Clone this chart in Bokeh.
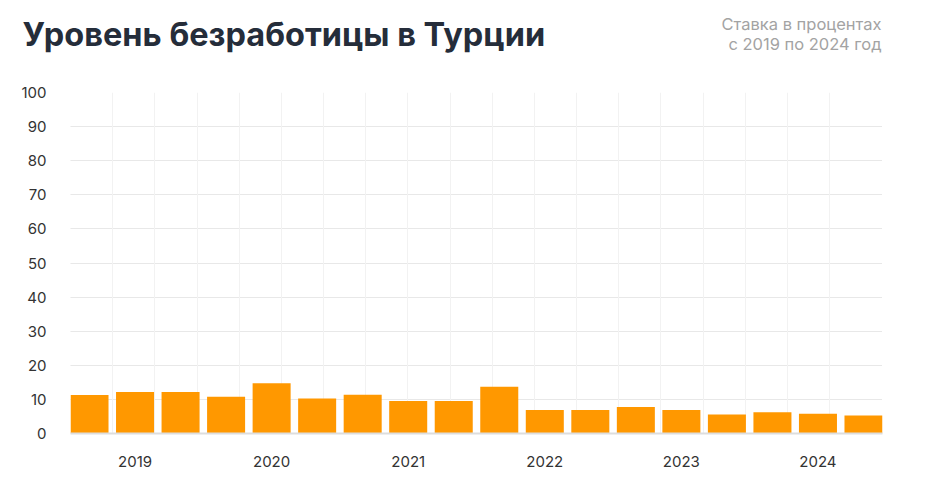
from bokeh.plotting import figure
from bokeh.models import ColumnDataSource, FixedTicker, Label, Range1d, Grid
from bokeh.embed import file_html
from bokeh.resources import INLINE

# Data
periods = list(range(18))
values = [11.3, 12.2, 12.2, 10.8, 14.7, 10.3, 11.4, 9.5, 9.5,
          13.7, 6.9, 6.9, 7.8, 6.9, 5.6, 6.2, 5.8, 5.3]
year_labels = ["2019", "2020", "2021", "2022", "2023", "2024"]
year_positions = [1, 4, 7, 10, 13, 16]
y_ticks = [0, 10, 20, 30, 40, 50, 60, 70, 80, 90, 100]
title_text = "Уровень безработицы в Турции"
subtitle_lines = ["Ставка в процентах", "с 2019 по 2024 год"]

FONT = "Inter"
BAR_W = 0.835
W = 930
HEAD_H = 82

# ---------- header (separate root, so its frame is not aligned to the chart) ----------
head = figure(width=W, height=HEAD_H, output_backend="svg", toolbar_location=None,
              x_range=Range1d(0, 1), y_range=Range1d(0, 1),
              x_axis_type=None, y_axis_type=None,
              min_border=0, min_border_left=0, min_border_right=0,
              min_border_top=0, min_border_bottom=0)
head.grid.visible = False
head.outline_line_color = None
head.add_layout(Label(x=22, y=HEAD_H - 34, x_units="screen", y_units="screen",
                      text=title_text, text_font=FONT,
                      text_font_size="32.5px", text_font_style="bold",
                      text_color="#252d3a", text_baseline="alphabetic"))
head.add_layout(Label(x=881, y=HEAD_H - 23, x_units="screen", y_units="screen",
                      text=subtitle_lines[0], text_font=FONT,
                      text_font_size="16.5px", text_color="#a3a3a3",
                      text_align="right", text_baseline="alphabetic"))
head.add_layout(Label(x=881, y=HEAD_H - 43, x_units="screen", y_units="screen",
                      text=subtitle_lines[1], text_font=FONT,
                      text_font_size="16.5px", text_color="#a3a3a3",
                      text_align="right", text_baseline="alphabetic"))

# ---------- chart ----------
src = ColumnDataSource(dict(x=periods, top=values))

p = figure(width=W, height=403, output_backend="svg", toolbar_location=None,
           x_range=Range1d(-BAR_W / 2, 17 + BAR_W / 2), y_range=Range1d(0, 100),
           min_border_left=70, min_border_right=48, min_border_top=10, min_border_bottom=52)
p.outline_line_color = None

p.vbar(x="x", top="top", width=BAR_W, bottom=0, source=src,
       fill_color="#ff9800", line_color=None)

# x axis
p.xaxis.ticker = FixedTicker(ticks=year_positions)
p.xaxis.major_label_overrides = {pos: lab for pos, lab in zip(year_positions, year_labels)}
p.xaxis.major_tick_line_color = None
p.xaxis.major_tick_out = 0
p.xaxis.minor_tick_line_color = None
p.xaxis.axis_line_color = "#dddddd"
p.xaxis.axis_line_width = 2
p.xaxis.major_label_text_font = FONT
p.xaxis.major_label_text_font_size = "15px"
p.xaxis.major_label_text_color = "#333333"
p.xaxis.major_label_standoff = 22

# y axis
p.yaxis.ticker = FixedTicker(ticks=y_ticks)
p.yaxis.major_tick_line_color = None
p.yaxis.major_tick_out = 0
p.yaxis.minor_tick_line_color = None
p.yaxis.axis_line_color = None
p.yaxis.major_label_text_font = FONT
p.yaxis.major_label_text_font_size = "15px"
p.yaxis.major_label_text_color = "#333333"
p.yaxis.major_label_standoff = 24

# grids
p.xgrid.grid_line_color = None
p.ygrid.grid_line_color = "#d0d0d0"
p.ygrid.grid_line_dash = "1 1"
p.ygrid.grid_line_width = 1

vticks = [-BAR_W / 2 + 0.9262 * k for k in range(19)]
vgrid = Grid(dimension=0, ticker=FixedTicker(ticks=vticks),
             grid_line_color="#f2f2f2", grid_line_width=1, level="underlay")
p.add_layout(vgrid)

open("out.html", "w").write(file_html([head, p], INLINE))
